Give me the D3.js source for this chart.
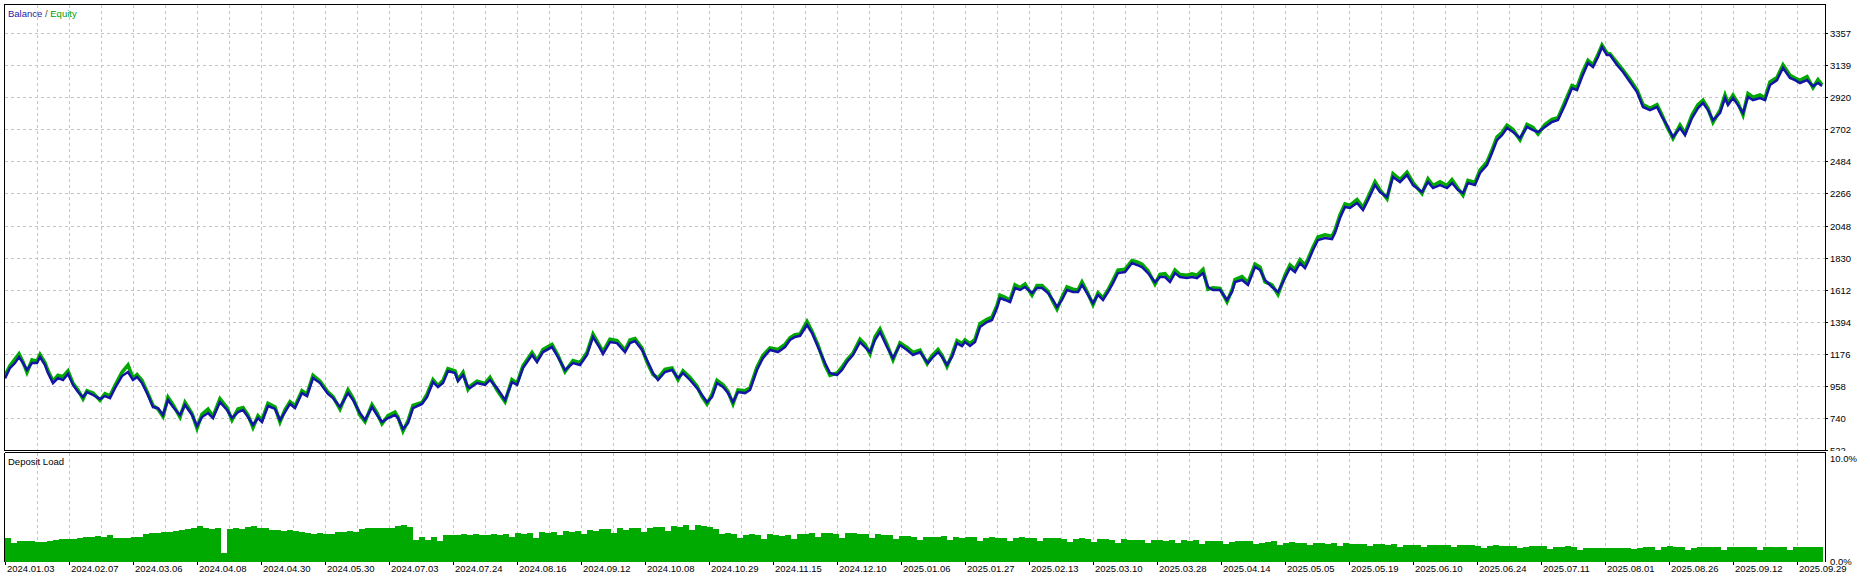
<!DOCTYPE html>
<html><head><meta charset="utf-8">
<script src="https://cdn.jsdelivr.net/npm/d3@7"></script>
<style>
html,body{margin:0;padding:0;background:#fff;}
svg{display:block;font-family:"Liberation Sans",Arial,sans-serif;}
</style></head><body>
<svg id="chart" width="1870" height="578"></svg>
<script>
const dateLabels = ["2024.01.03","2024.02.07","2024.03.06","2024.04.08","2024.04.30","2024.05.30","2024.07.03","2024.07.24","2024.08.16","2024.09.12","2024.10.08","2024.10.29","2024.11.15","2024.12.10","2025.01.06","2025.01.27","2025.02.13","2025.03.10","2025.03.28","2025.04.14","2025.05.05","2025.05.19","2025.06.10","2025.06.24","2025.07.11","2025.08.01","2025.08.26","2025.09.12","2025.09.29"];
const dateTickDeals = [0,64,128,192,256,320,384,448,512,576,640,704,768,832,896,960,1024,1088,1152,1216,1280,1344,1408,1472,1536,1600,1664,1728,1792];
const yTicks = [522,740,958,1176,1394,1612,1830,2048,2266,2484,2702,2920,3139,3357];
const loadTicks = [0,10];
const loadTickLabels = ["0.0%","10.0%"];

const deals = [0,5,10,14,18,22,27,32,35,40,43,48,53,58,63,68,73,78,82,88,95,100,105,110,117,123,128,132,137,142,148,153,158,163,168,175,180,187,192,197,203,208,215,222,227,233,238,243,248,253,257,263,270,275,280,285,290,297,302,308,315,323,328,335,343,348,355,360,367,372,377,383,390,393,398,403,408,417,422,428,433,438,443,450,453,458,463,
465,472,480,485,492,500,507,512,518,527,532,538,547,553,560,568,575,582,588,593,598,605,612,620,625,630,637,642,648,653,660,667,673,678,685,692,697,702,707,712,718,723,728,733,740,745,752,758,765,773,780,785,790,795,802,807,813,820,825,832,837,842,848,855,860,865,870,875,882,888,895,902,908,915,922,
923,928,933,937,942,947,952,957,960,965,970,975,982,987,992,995,1000,1005,1010,1015,1020,1027,1032,1037,1043,1048,1052,1057,1062,1068,1073,1077,1082,1088,1093,1098,1103,1108,1113,1120,1127,1132,1137,1143,1150,1155,1160,1165,1170,1175,1182,1187,1192,1198,1203,1208,1215,1222,1227,1230,1237,1243,1250,1255,1260,1267,1273,1280,1285,1290,1295,1300,1303,1308,1313,1320,1327,1330,1335,1340,1345,1352,1358,1363,1370,1375,
1382,1388,1395,1402,1408,1417,1423,1428,1435,1442,1447,1453,1458,1463,1470,1475,1482,1487,1492,1497,1502,1508,1515,1522,1528,1533,1540,1547,1553,1560,1567,1572,1577,1583,1588,1593,1597,1602,1605,1612,1618,1625,1632,1638,1645,1652,1657,1662,1668,1675,1680,1687,1693,1698,1703,1708,1715,1720,1723,1728,1733,1738,1743,1748,1755,1760,1765,1772,1778,1785,1790,1795,1802,1808,1813,1817];

const balance = [1009,1079,1113,1154,1113,1066,1113,1113,1154,1100,1045,977,1011,998,1039,964,916,882,916,896,869,889,875,943,1025,1052,998,1018,977,909,814,807,760,862,814,760,828,760,685,746,773,739,848,794,739,780,794,746,692,739,712,821,801,726,780,835,807,909,889,1011,977,903,875,814,909,862,773,726,814,760,712,739,760,739,665,705,807,835,882,984,950,977,1059,1045,991,1032,950,
943,977,964,998,943,862,984,964,1079,1168,1120,1188,1222,1154,1066,1113,1100,1168,1290,1236,1175,1256,1249,1188,1249,1263,1202,1134,1045,998,1052,1066,1011,1045,998,943,896,848,882,977,950,909,848,916,909,930,1066,1147,1202,1188,1222,1270,1290,1297,1372,1317,1222,1113,1045,1032,1066,1120,1168,1256,1222,1188,1270,1324,1222,1147,1236,1202,1168,1188,1120,
1113,1154,1188,1154,1100,1154,1249,1229,1256,1229,1256,1358,1392,1406,1487,1555,1542,1528,1623,1610,1630,1589,1623,1623,1589,1542,1494,1542,1610,1596,1596,1644,1589,1521,1576,1542,1596,1657,1725,1732,1793,1780,1766,1725,1664,1698,1698,1664,1725,1698,1691,1698,1691,1725,1630,1610,1610,1542,1596,1664,1678,1644,1766,1746,1678,1630,1596,1691,1759,1732,1793,1759,1800,1882,1950,1963,1956,1997,2099,2174,2167,2201,2153,2221,2323,2276,
2242,2378,2344,2391,2323,2276,2344,2303,2323,2303,2337,2289,2269,2337,2323,2405,2459,2541,2629,2663,2711,2684,2643,2718,2697,2684,2718,2752,2765,2867,2983,2969,3058,3153,3126,3194,3262,3207,3207,3139,3092,3024,2956,2854,2833,2854,2786,2731,2650,2711,2663,2779,2847,2881,2833,2765,2813,2915,2867,2915,2867,2813,2922,2901,2915,2901,3003,3037,3119,3051,3037,3017,3037,2996,3017,2996];

const equity = [1030,1095,1140,1175,1120,1050,1135,1125,1170,1115,1060,990,1030,1020,1060,975,930,870,925,910,860,905,890,960,1050,1100,1010,1035,995,920,825,800,750,880,830,745,845,770,670,765,800,750,870,810,725,800,810,760,675,755,725,840,815,712,795,850,820,925,900,1030,990,915,885,800,930,875,760,715,830,775,700,755,780,745,650,720,825,845,900,1000,960,995,1075,1060,1000,1050,935,
955,990,975,1015,930,850,1000,975,1095,1185,1130,1205,1240,1165,1055,1130,1115,1185,1310,1250,1190,1275,1265,1200,1270,1280,1215,1120,1035,1010,1070,1080,1000,1060,1015,955,885,835,900,995,965,920,835,930,925,945,1085,1165,1215,1205,1240,1285,1305,1310,1395,1330,1235,1100,1030,1045,1085,1135,1180,1275,1240,1175,1290,1345,1240,1135,1250,1220,1185,1200,1110,
1125,1170,1205,1165,1090,1170,1265,1245,1270,1245,1275,1380,1410,1425,1505,1575,1560,1540,1645,1625,1650,1575,1640,1640,1600,1530,1480,1560,1630,1615,1610,1665,1600,1510,1590,1555,1610,1675,1745,1750,1810,1800,1785,1740,1650,1715,1720,1680,1745,1715,1710,1720,1710,1750,1615,1625,1620,1530,1610,1680,1700,1660,1785,1765,1665,1645,1580,1710,1780,1750,1815,1780,1820,1900,1970,1985,1975,2015,2120,2195,2185,2225,2170,2240,2345,2290,
2230,2400,2360,2410,2340,2265,2365,2320,2345,2320,2360,2300,2255,2355,2340,2425,2480,2560,2650,2680,2730,2700,2630,2735,2715,2670,2735,2770,2780,2890,3000,2985,3080,3170,3140,3210,3275,3220,3215,3155,3105,3040,2970,2870,2845,2870,2800,2720,2640,2730,2675,2800,2870,2900,2845,2750,2830,2935,2880,2935,2880,2800,2945,2920,2935,2915,3025,3055,3140,3070,3050,3035,3060,2985,3040,3005];

const depositLoad = [2.2,1.7,1.85,1.9,1.85,1.8,1.8,1.85,2.0,2.05,2.1,2.1,2.15,2.3,2.25,2.35,2.3,2.4,2.2,2.2,2.15,2.3,2.3,2.5,2.6,2.65,2.7,2.75,2.8,2.9,3.0,3.05,3.3,3.1,3.0,3.05,0.8,3.0,3.05,2.95,3.2,3.25,3.05,3.1,2.9,2.9,2.85,2.9,2.8,2.7,2.6,2.55,2.6,2.5,2.55,2.75,2.7,2.8,2.75,3.0,3.05,3.1,3.1,3.05,3.1,3.3,3.4,3.2,2.0,2.3,2.0,2.3,1.9,2.4,2.45,2.4,2.5,2.45,2.5,2.4,2.45,2.5,2.45,
2.5,2.3,2.6,2.5,2.65,2.2,2.7,2.65,2.75,2.4,2.8,2.75,2.85,2.5,2.9,2.85,2.95,
2.95,2.6,3.05,2.9,3.1,3.05,2.7,3.1,3.2,3.15,2.8,3.3,3.2,3.35,2.9,3.4,3.3,3.2,3.0,2.5,
2.6,2.5,2.2,2.45,2.5,2.4,2.1,2.5,2.4,2.35,2.45,2.1,2.5,
2.55,2.6,2.3,2.65,2.6,2.55,2.2,2.65,2.6,2.55,2.5,2.2,2.5,2.4,2.45,2.1,2.35,
2.35,2.3,2.0,2.3,2.25,2.3,2.35,2.0,2.25,2.2,2.25,2.3,1.9,2.2,2.25,2.2,
2.2,1.9,2.2,2.25,2.2,2.15,1.85,2.15,2.2,2.15,2.1,1.8,2.1,2.15,2.1,1.8,2.1,
2.05,2.0,1.75,2.1,2.0,1.95,2.0,1.7,2.0,1.95,1.9,1.95,1.7,1.95,1.9,1.95,1.65,
1.9,1.85,1.9,1.6,1.8,1.85,1.9,1.85,1.6,1.75,1.8,1.85,1.55,1.75,1.8,1.75,
1.75,1.5,1.75,1.7,1.65,1.7,1.45,1.7,1.65,1.6,1.65,1.4,1.65,1.6,1.55,1.6,1.35,
1.55,1.5,1.55,1.3,1.55,1.5,1.55,1.5,1.3,1.5,1.55,1.5,1.45,1.25,1.45,1.5,1.45,
1.4,1.45,1.2,1.35,1.4,1.45,1.4,1.15,1.3,1.35,1.4,1.3,1.1,1.2,1.25,1.2,
1.2,1.2,1.25,1.2,1.2,1.15,1.2,1.3,1.35,1.1,1.35,1.4,1.3,1.35,1.1,1.25,1.3,
1.35,1.3,1.35,1.1,1.35,1.3,1.35,1.3,1.35,1.1,1.35,1.3,1.35,1.3,1.05,1.3,1.35,1.3,1.35,1.3];

const svg = d3.select("#chart");
const plotL = 5, plotR = 1823, axisX = 1825.5;
const mainTop = 4.5, mainBot = 450.5, loadTop = 452.5, loadBot = 561.5;

const x = d3.scaleLinear().domain([0, 1818]).range([plotL, plotR]);
const y = d3.scaleLinear().domain([522, 3357]).range([450, 33]);
const yl = d3.scaleLinear().domain([0, 10]).range([561.5, 453]);
const xb = d3.scaleBand().domain(d3.range(depositLoad.length)).range([plotL, plotR]).padding(0);

const gridColor = "#c4c4c4";
const gridDeals = d3.range(32, 1793, 32);

const g = svg.append("g").attr("shape-rendering", "crispEdges");
g.selectAll(".hg").data(yTicks.filter(v => v !== 522)).join("line")
  .attr("x1", plotL).attr("x2", axisX)
  .attr("y1", d => Math.round(y(d)) + 0.5).attr("y2", d => Math.round(y(d)) + 0.5)
  .attr("stroke", gridColor).attr("stroke-dasharray", "3,3");
g.selectAll(".vg").data(gridDeals).join("line")
  .attr("x1", d => Math.round(x(d)) + 0.5).attr("x2", d => Math.round(x(d)) + 0.5)
  .attr("y1", mainTop).attr("y2", mainBot)
  .attr("stroke", gridColor).attr("stroke-dasharray", "3,3");
g.selectAll(".vg2").data(gridDeals).join("line")
  .attr("x1", d => Math.round(x(d)) + 0.5).attr("x2", d => Math.round(x(d)) + 0.5)
  .attr("y1", loadTop).attr("y2", loadBot)
  .attr("stroke", gridColor).attr("stroke-dasharray", "3,3");

svg.append("clipPath").attr("id", "mainClip").append("rect")
  .attr("x", plotL).attr("y", mainTop).attr("width", axisX - plotL).attr("height", mainBot - mainTop);

const pts = balance.map((b, i) => ({d: deals[i], b: b, e: equity[i]}));
const lineE = d3.line().x(p => x(p.d)).y(p => y(p.e));
const lineB = d3.line().x(p => x(p.d)).y(p => y(p.b));
const lg = svg.append("g").attr("clip-path", "url(#mainClip)");
lg.append("path").datum(pts).attr("d", lineE).attr("fill", "none")
  .attr("stroke", "#00a800").attr("stroke-width", 3.6).attr("stroke-linejoin", "miter");
lg.append("path").datum(pts).attr("d", lineB).attr("fill", "none")
  .attr("stroke", "#1414a8").attr("stroke-width", 2.5).attr("stroke-linejoin", "miter");

svg.append("g").attr("shape-rendering", "crispEdges")
  .selectAll("rect").data(depositLoad).join("rect")
  .attr("x", (d, i) => xb(i)).attr("width", xb.bandwidth() + 0.3)
  .attr("y", d => yl(d)).attr("height", d => yl(0) - yl(d))
  .attr("fill", "#00aa00");

const fr = svg.append("g").attr("shape-rendering", "crispEdges").attr("stroke", "#000").attr("fill", "none");
fr.append("rect").attr("x", 4.5).attr("y", mainTop).attr("width", axisX - 4.5).attr("height", mainBot - mainTop);
fr.append("line").attr("x1", 4.5).attr("x2", axisX).attr("y1", loadTop).attr("y2", loadTop);
fr.append("line").attr("x1", 4.5).attr("x2", 4.5).attr("y1", loadTop).attr("y2", loadBot + 0.5);
fr.append("line").attr("x1", axisX).attr("x2", axisX).attr("y1", loadTop).attr("y2", loadBot + 0.5);

svg.append("clipPath").attr("id", "labClip").append("rect")
  .attr("x", 1826).attr("y", 0).attr("width", 60).attr("height", 451);
const ya = svg.append("g");
ya.selectAll("line").data(yTicks).join("line")
  .attr("shape-rendering", "crispEdges")
  .attr("x1", axisX).attr("x2", axisX + 2.5)
  .attr("y1", d => Math.round(y(d)) + 0.5).attr("y2", d => Math.round(y(d)) + 0.5)
  .attr("stroke", "#000");
ya.selectAll("text").data(yTicks).join("text")
  .attr("clip-path", "url(#labClip)")
  .attr("x", 1830).attr("y", d => Math.round(y(d)) + 3.8)
  .attr("font-size", 9.5).attr("fill", "#000").text(d => d);

const xa = svg.append("g");
xa.selectAll("line").data(dateTickDeals).join("line")
  .attr("shape-rendering", "crispEdges")
  .attr("x1", d => Math.round(x(d)) + 0.5).attr("x2", d => Math.round(x(d)) + 0.5)
  .attr("y1", loadBot).attr("y2", loadBot + 3).attr("stroke", "#000");
xa.selectAll("text").data(dateTickDeals).join("text")
  .attr("x", d => Math.round(x(d)) + 2).attr("y", 571.5)
  .attr("font-size", 9.5).attr("fill", "#000").text((d, i) => dateLabels[i]);

// load axis labels drawn after dates (they sit on top, as in the reference)
const la = svg.append("g");
la.selectAll("text").data(loadTicks).join("text")
  .attr("x", 1830).attr("y", (d, i) => i === 1 ? yl(d) + 8.5 : yl(d) + 3.8)
  .attr("font-size", 9.5).attr("fill", "#000")
  .attr("stroke", "#fff").attr("stroke-width", 2).attr("paint-order", "stroke")
  .text((d, i) => loadTickLabels[i]);

const leg = svg.append("text").attr("x", 8).attr("y", 16.5).attr("font-size", 9.5);
leg.append("tspan").attr("fill", "#1c1ca6").text("Balance");
leg.append("tspan").attr("fill", "#444").text(" / ");
leg.append("tspan").attr("fill", "#00a000").text("Equity");
svg.append("text").attr("x", 8).attr("y", 464.5).attr("font-size", 9.5).attr("fill", "#000").text("Deposit Load");
</script>
</body></html>
